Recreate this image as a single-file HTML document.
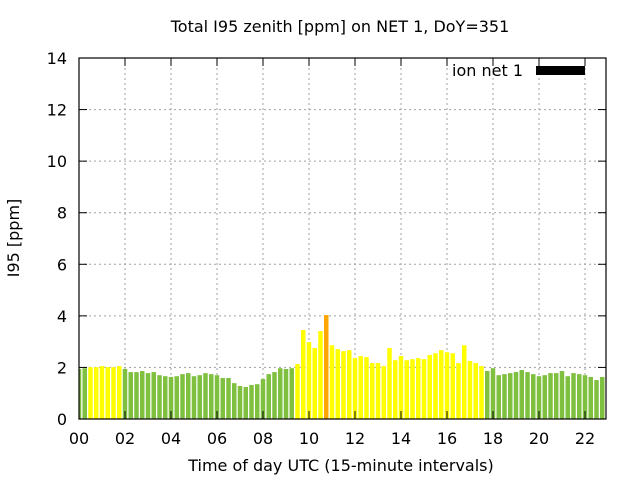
<!DOCTYPE html>
<html><head><meta charset="utf-8"><style>
body{margin:0;background:#fff;}
svg{display:block;font-family:"DejaVu Sans","Liberation Sans",sans-serif;}
</style></head><body>
<svg id="chart" width="640" height="480">
<text x="340" y="32" font-size="16" text-anchor="middle">Total I95 zenith [ppm] on NET 1, DoY=351</text>
<text x="19" y="238" font-size="16" text-anchor="middle" transform="rotate(-90 19 238)">I95 [ppm]</text>
<text x="341" y="471" font-size="16" text-anchor="middle">Time of day UTC (15-minute intervals)</text>
<g id="grid"></g><g id="bars"></g><g id="axes"></g>
<text x="523" y="76" font-size="16" text-anchor="end">ion net 1</text>
<rect x="536" y="66" width="49" height="9" fill="#000"/>
</svg>
<script>
const values=[1.94,1.97,2.01,2.01,2.05,2.01,2.01,2.05,1.94,1.82,1.82,1.86,1.78,1.82,1.70,1.66,1.63,1.66,1.74,1.78,1.66,1.70,1.78,1.74,1.70,1.59,1.59,1.39,1.28,1.24,1.32,1.35,1.55,1.74,1.82,1.97,1.94,1.97,2.13,3.45,2.98,2.75,3.41,4.03,2.86,2.71,2.63,2.67,2.36,2.44,2.40,2.17,2.17,2.05,2.75,2.28,2.44,2.28,2.32,2.36,2.32,2.48,2.55,2.67,2.59,2.55,2.17,2.86,2.25,2.17,2.05,1.86,1.97,1.70,1.74,1.78,1.82,1.90,1.82,1.74,1.66,1.70,1.78,1.78,1.86,1.66,1.78,1.74,1.70,1.63,1.51,1.63];
const yTicks=[0,2,4,6,8,10,12,14];
const xTickLabels=["00","02","04","06","08","10","12","14","16","18","20","22"];
const L=79,R=606,T=58,B=419;
const x=h=>L+h*23;
const y=v=>B-(v/14)*(B-T);
const NS="http://www.w3.org/2000/svg";
function mk(tag,attrs,parent){const e=document.createElementNS(NS,tag);for(const k in attrs)e.setAttribute(k,attrs[k]);parent.appendChild(e);return e;}
const grid=document.getElementById('grid'),bars=document.getElementById('bars'),axes=document.getElementById('axes');
yTicks.forEach(v=>{
  if(v>0&&v<14){const g=mk('line',{x1:L,x2:R,y1:y(v),y2:y(v),stroke:'#a0a0a0','stroke-dasharray':'2,3'},grid);
  
  }
  mk('line',{x1:L,x2:L+8,y1:y(v),y2:y(v),stroke:'#000'},axes);
  mk('line',{x1:R,x2:R-8,y1:y(v),y2:y(v),stroke:'#000'},axes);
  const t=mk('text',{x:L-12,y:y(v)+6,'font-size':16,'text-anchor':'end'},axes);t.textContent=v;
  
  
});
xTickLabels.forEach((lab,i)=>{
  const xx=x(i*2);
  if(i>0){const g=mk('line',{x1:xx,x2:xx,y1:T,y2:B,stroke:'#a0a0a0','stroke-dasharray':'2,3'},grid);
  
  }
  mk('line',{x1:xx,x2:xx,y1:B,y2:B-8,stroke:'#000'},axes);
  mk('line',{x1:xx,x2:xx,y1:T,y2:T+8,stroke:'#000'},axes);
  const t=mk('text',{x:xx,y:B+25,'font-size':16,'text-anchor':'middle'},axes);t.textContent=lab;
  
  
});
values.forEach((v,i)=>{
  const c=i*0.25;
  let x0=x(c)-2.25,x1=x(c)+2.25;
  x0=Math.max(x0,L);x1=Math.min(x1,R);
  const col=v<2?'#80c040':(v<4?'#ffff00':'#ffa500');
  const r=mk('rect',{x:x0,y:y(v),width:x1-x0,height:B-y(v),fill:col},bars);
  
  
});
const f=mk('rect',{x:L,y:T,width:R-L,height:B-T,fill:'none',stroke:'#000','stroke-width':1.2},axes);


</script>
</body></html>
